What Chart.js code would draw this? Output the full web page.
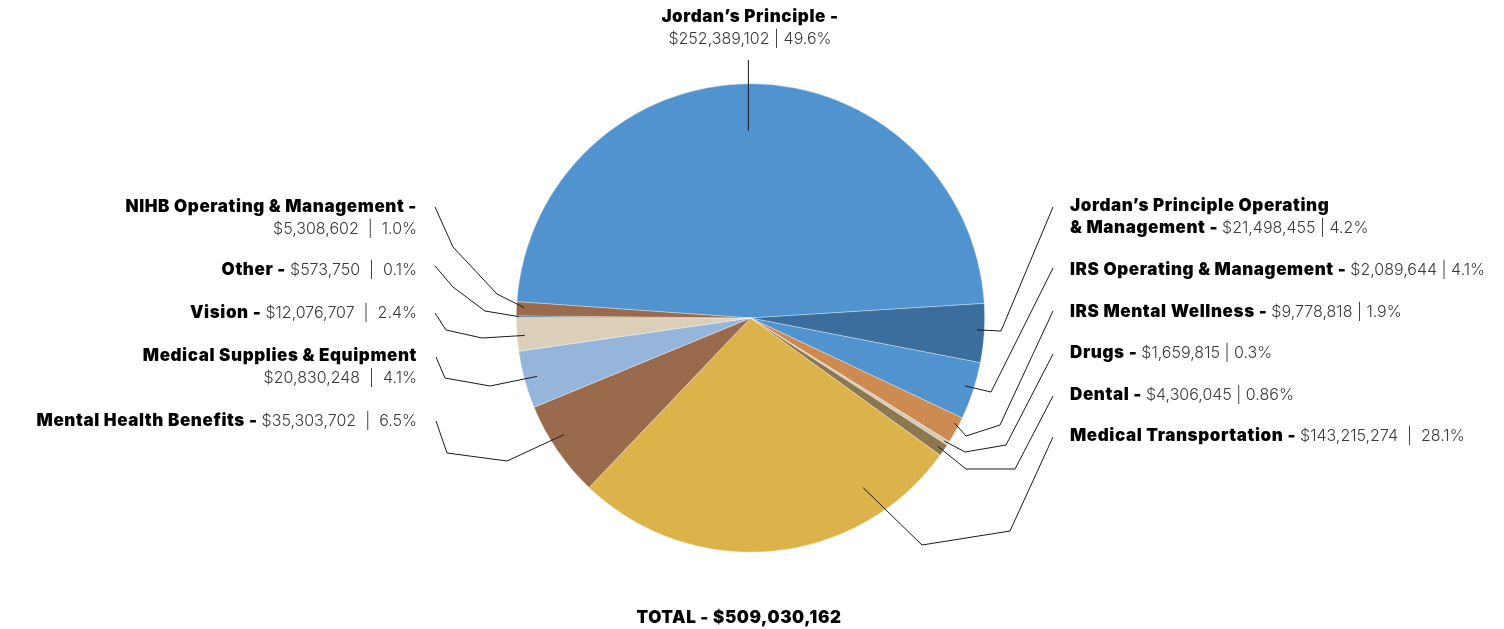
<!DOCTYPE html>
<html>
<head>
<meta charset="utf-8">
<script src="https://cdn.jsdelivr.net/npm/chart.js@4.4.0/dist/chart.umd.min.js"></script>
<style>
  html, body { margin: 0; padding: 0; background: #ffffff; }
  #wrap { width: 1504px; height: 629px; position: relative; }
</style>
</head>
<body>
<div id="wrap"><canvas id="c" width="1504" height="629"></canvas></div>
<script>
// ---- DATA ----
const categories = [
  "Jordan’s Principle",
  "Jordan’s Principle Operating & Management",
  "IRS Operating & Management",
  "IRS Mental Wellness",
  "Drugs",
  "Dental",
  "Medical Transportation",
  "Mental Health Benefits",
  "Medical Supplies & Equipment",
  "Vision",
  "Other",
  "NIHB Operating & Management"
];
const amounts = [
  "$252,389,102", "$21,498,455", "$2,089,644", "$9,778,818", "$1,659,815", "$4,306,045",
  "$143,215,274", "$35,303,702", "$20,830,248", "$12,076,707", "$573,750", "$5,308,602"
];
const percentLabels = [
  "49.6%", "4.2%", "4.1%", "1.9%", "0.3%", "0.86%",
  "28.1%", "6.5%", "4.1%", "2.4%", "0.1%", "1.0%"
];
const sliceValues = [49.6, 4.2, 4.1, 1.9, 0.3, 0.86, 28.1, 6.9, 4.1, 2.4, 0.1, 1.0];
const totalLabel = "TOTAL - $509,030,162";

// ---- STYLE ----
const sliceColors = [
  "#5193CE", "#3B6E9D", "#5193CE", "#CD8B51", "#D9CBB2", "#8C774F",
  "#DBB34A", "#9A6A4C", "#95B6DA", "#DCCFB9", "#2F5C8C", "#9A6A4C"
];
const BOLD = "900 17px Inter, 'Open Sans', sans-serif";
const REG = "300 16px Inter, 'Open Sans', sans-serif";
const BOLD_SPACING = "0.6px";

// label layout: anchor, alignment, how the text is broken into lines, leader line path
// t = position within slice (0..1), f = radius fraction where the leader starts
const layout = [
  { x: 750, y: 17, align: "center", form: "stack", sep: " | ", t: 0.495, f: 0.80, path: [[748, 60]] },
  { x: 1070, y: 206, align: "left", form: "split2", splitAt: 28, sep: " | ", t: 0.45, f: 0.968, path: [[1001, 331], [1053, 207]] },
  { x: 1070, y: 270, align: "left", form: "inline", sep: " | ", t: 0.46, f: 0.96, path: [[991, 392], [1053, 268]] },
  { x: 1070, y: 312, align: "left", form: "inline", sep: " | ", t: 0.3, f: 0.98, path: [[966, 436], [1000, 425], [1053, 311]] },
  { x: 1070, y: 353, align: "left", form: "inline", sep: " | ", t: 0.5, f: 0.98, path: [[965, 452], [1006, 445], [1053, 354]] },
  { x: 1070, y: 395, align: "left", form: "inline", sep: " | ", t: 0.5, f: 0.97, path: [[966, 469], [1015, 469], [1053, 396]] },
  { x: 1070, y: 436, align: "left", form: "inline", sep: "  |  ", t: 0.21, f: 0.87, path: [[922, 545], [1010, 531], [1053, 437]] },
  { x: 417, y: 421, align: "right", form: "inline", sep: "  |  ", t: 0.6, f: 0.94, path: [[507, 461], [447, 453], [436, 421]] },
  { x: 417, y: 356, align: "right", form: "stackNoDash", sep: "  |  ", t: 0.5, f: 0.945, path: [[490, 386], [445, 378], [436, 357]] },
  { x: 417, y: 313, align: "right", form: "inline", sep: "  |  ", t: 0.45, f: 0.967, path: [[482, 338], [446, 330], [435, 313]] },
  { x: 417, y: 270, align: "right", form: "inline", sep: "  |  ", t: 0.5, f: 0.99, path: [[485, 311], [453, 287], [435, 266]] },
  { x: 417, y: 207, align: "right", form: "stack", sep: "  |  ", t: 0.6, f: 0.967, path: [[497, 294], [453, 247], [435, 207]] }
];
const LINE_GAP = 22;

function buildLines(i) {
  const L = layout[i];
  const name = categories[i];
  const val = amounts[i] + L.sep + percentLabels[i];
  if (L.form === "stack") return [[{ b: true, s: name + " -" }], [{ b: false, s: val }]];
  if (L.form === "stackNoDash") return [[{ b: true, s: name }], [{ b: false, s: val }]];
  if (L.form === "split2") {
    return [[{ b: true, s: name.slice(0, L.splitAt) }],
            [{ b: true, s: name.slice(L.splitAt).trim() + " - " }, { b: false, s: val }]];
  }
  return [[{ b: true, s: name + " - " }, { b: false, s: val }]];
}

function setFont(ctx, bold) {
  ctx.font = bold ? BOLD : REG;
  if ("letterSpacing" in ctx) ctx.letterSpacing = bold ? BOLD_SPACING : "0px";
}

function drawLine(ctx, segs, x, y, align) {
  let w = 0;
  segs.forEach(sg => { setFont(ctx, sg.b); w += ctx.measureText(sg.s).width; });
  let cx = align === "left" ? x : align === "right" ? x - w : x - w / 2;
  segs.forEach(sg => {
    setFont(ctx, sg.b);
    ctx.fillStyle = sg.b ? "#000000" : "#3a3a3a";
    ctx.textAlign = "left";
    ctx.textBaseline = "middle";
    ctx.fillText(sg.s, cx, y);
    cx += ctx.measureText(sg.s).width;
  });
  if ("letterSpacing" in ctx) ctx.letterSpacing = "0px";
}

const labelPlugin = {
  id: "labels",
  afterDraw(chart) {
    const ctx = chart.ctx;
    const arcs = chart.getDatasetMeta(0).data;
    ctx.save();
    // leader lines
    ctx.strokeStyle = "#1a1a1a";
    ctx.lineWidth = 1;
    arcs.forEach((arc, i) => {
      const L = layout[i];
      const p = arc.getProps(["x", "y", "startAngle", "endAngle", "outerRadius"], true);
      const a = p.startAngle + (p.endAngle - p.startAngle) * L.t;
      const r = p.outerRadius * L.f;
      const sx = p.x + Math.cos(a) * r, sy = p.y + Math.sin(a) * r;
      ctx.beginPath();
      ctx.moveTo(sx, sy);
      if (i === 0) {
        ctx.lineTo(sx, L.path[0][1]);
      } else {
        L.path.forEach(pt => ctx.lineTo(pt[0], pt[1]));
      }
      ctx.stroke();
    });
    // labels
    arcs.forEach((arc, i) => {
      const L = layout[i];
      const lines = buildLines(i);
      lines.forEach((ln, k) => drawLine(ctx, ln, L.x, L.y + k * LINE_GAP, L.align));
    });
    // total
    drawLine(ctx, [{ b: true, s: totalLabel }], 739, 618, "center");
    ctx.restore();
  }
};

new Chart(document.getElementById("c"), {
  type: "pie",
  data: {
    labels: categories,
    datasets: [{
      data: sliceValues,
      backgroundColor: sliceColors,
      borderColor: "rgba(255,255,255,0.55)",
      borderWidth: 0.6
    }]
  },
  options: {
    responsive: false,
    animation: false,
    rotation: -86.0,
    layout: { padding: { top: 83.5, bottom: 76.5, left: 0, right: 3 } },
    plugins: { legend: { display: false }, tooltip: { enabled: false } }
  },
  plugins: [labelPlugin]
});
</script>
</body>
</html>
